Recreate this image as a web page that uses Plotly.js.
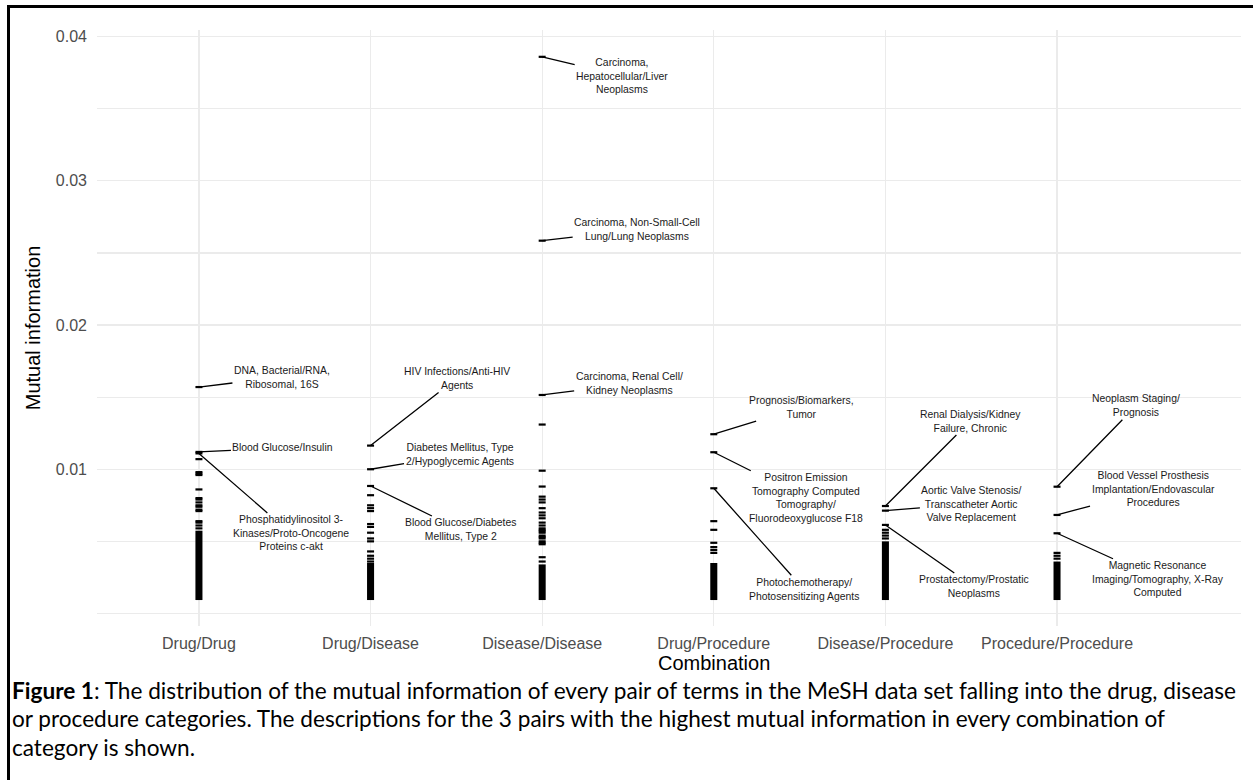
<!DOCTYPE html>
<html>
<head>
<meta charset="utf-8">
<script src="https://cdn.plot.ly/plotly-3.0.1.min.js"></script>
<style>
html,body{margin:0;padding:0;background:#fff;overflow:hidden;}
#wrap{position:relative;width:1253px;height:780px;}
#chart{width:1253px;height:780px;}
#frame{position:absolute;left:7px;top:5px;width:1246px;height:775px;border-left:3px solid #000;border-top:3px solid #000;box-sizing:border-box;pointer-events:none;}
</style>
</head>
<body>
<div id="wrap"><div id="chart"></div><div id="frame"></div></div>
<script>
// ---------------- DATA ----------------
const categories = ["Drug/Drug", "Drug/Disease", "Disease/Disease", "Drug/Procedure", "Disease/Procedure", "Procedure/Procedure"];

// individually distinguishable values (mutual information) per combination
const drugDrug = [0.0157, 0.0112, 0.0111, 0.0107, 0.0098, 0.0097, 0.0096, 0.0086, 0.0080, 0.0079, 0.0077, 0.0075, 0.0074, 0.0072, 0.0071, 0.0064, 0.0063, 0.0061, 0.0059];
const drugDisease = [0.01164, 0.0100, 0.00884, 0.0082, 0.0075, 0.0073, 0.0071, 0.0062, 0.0060, 0.0056, 0.0052, 0.0050, 0.0043, 0.0040, 0.0038, 0.0036];
const diseaseDisease = [0.0386, 0.02585, 0.01515, 0.0131, 0.0099, 0.0088, 0.0081, 0.0079, 0.0077, 0.0073, 0.0070, 0.0068, 0.0066, 0.0063, 0.0061, 0.0059, 0.0058, 0.0057, 0.0056, 0.0054, 0.0053, 0.0052, 0.0050, 0.0049, 0.0048, 0.0039, 0.0036];
const drugProcedure = [0.01243, 0.01118, 0.00868, 0.0064, 0.0058, 0.0049, 0.0046, 0.0044, 0.0042];
const diseaseProcedure = [0.00745, 0.00713, 0.00614, 0.0058, 0.0056, 0.0054, 0.0052];
const procedureProcedure = [0.00879, 0.00683, 0.00556, 0.0042, 0.0040, 0.0038];

// dense clusters of many overlapping values (shown as solid blocks): lower and upper value
const denseLow  = [0.00093, 0.00093, 0.00093, 0.00093, 0.00093, 0.00093];
const denseHigh = [0.00574, 0.0035, 0.0034, 0.0035, 0.0050, 0.0036];

// descriptions of the 3 highest pairs, in descending order of value
const labelsDrugDrug = ["DNA, Bacterial/RNA,<br>Ribosomal, 16S", "Blood Glucose/Insulin", "Phosphatidylinositol 3-<br>Kinases/Proto-Oncogene<br>Proteins c-akt"];
const labelsDrugDisease = ["HIV Infections/Anti-HIV<br>Agents", "Diabetes Mellitus, Type<br>2/Hypoglycemic Agents", "Blood Glucose/Diabetes<br>Mellitus, Type 2"];
const labelsDiseaseDisease = ["Carcinoma,<br>Hepatocellular/Liver<br>Neoplasms", "Carcinoma, Non-Small-Cell<br>Lung/Lung Neoplasms", "Carcinoma, Renal Cell/<br>Kidney Neoplasms"];
const labelsDrugProcedure = ["Prognosis/Biomarkers,<br>Tumor", "Positron Emission<br>Tomography Computed<br>Tomography/<br>Fluorodeoxyglucose F18", "Photochemotherapy/<br>Photosensitizing Agents"];
const labelsDiseaseProcedure = ["Renal Dialysis/Kidney<br>Failure, Chronic", "Aortic Valve Stenosis/<br>Transcatheter Aortic<br>Valve Replacement", "Prostatectomy/Prostatic<br>Neoplasms"];
const labelsProcedureProcedure = ["Neoplasm Staging/<br>Prognosis", "Blood Vessel Prosthesis<br>Implantation/Endovascular<br>Procedures", "Magnetic Resonance<br>Imaging/Tomography, X-Ray<br>Computed"];

const yTickVals = [0, 0.005, 0.01, 0.015, 0.02, 0.025, 0.03, 0.035, 0.04];
const yTickText = ["", "", "0.01", "", "0.02", "", "0.03", "", "0.04"];

const xTitle = "Combination";
const yTitle = "Mutual information";
const captionLines = [
  "<b>Figure 1</b>: The distribution of the mutual information of every pair of terms in the MeSH data set falling into the drug, disease",
  "or procedure categories. The descriptions for the 3 pairs with the highest mutual information in every combination of",
  "category is shown."
];

// ---------------- BUILD ----------------
const series = [drugDrug, drugDisease, diseaseDisease, drugProcedure, diseaseProcedure, procedureProcedure];
const labels = [labelsDrugDrug, labelsDrugDisease, labelsDiseaseDisease, labelsDrugProcedure, labelsDiseaseProcedure, labelsProcedureProcedure];

// label offsets in pixels (style)
const labelOffsets = [
  [[83,-10],[84,-4],[92,80]],
  [[86,-67],[89,-15],[90,44]],
  [[80,19],[95,-11],[87,-11]],
  [[88,-27],[92,46],[90,101]],
  [[85,-85],[86,-7],[89,62]],
  [[79,-81],[96,-26],[101,46]]
];

const px = [], py = [];
series.forEach((s, i) => s.forEach(v => { px.push(categories[i]); py.push(v); }));

const traces = [
  {
    type: "bar",
    x: categories,
    base: denseLow,
    y: denseHigh.map((h, i) => h - denseLow[i]),
    width: 0.041,
    marker: {color: "#000", line: {width: 0}},
    hoverinfo: "skip",
    showlegend: false
  },
  {
    type: "scatter",
    mode: "markers",
    x: px, y: py,
    marker: {symbol: "line-ew", size: 5, color: "#000", line: {color: "#000", width: 2.2}},
    showlegend: false,
    cliponaxis: false
  }
];

const annotations = [];
series.forEach((s, i) => {
  const top = s.slice().sort((a, b) => b - a).slice(0, 3);
  top.forEach((v, k) => {
    annotations.push({
      x: categories[i], y: v, xref: "x", yref: "y",
      text: labels[i][k],
      showarrow: true, arrowhead: 0, arrowwidth: 1.3, arrowcolor: "#000",
      ax: labelOffsets[i][k][0], ay: labelOffsets[i][k][1],
      standoff: 0, startstandoff: 0,
      align: "center",
      font: {family: "Liberation Sans, Arial, sans-serif", size: 10.4, color: "#1a1a1a"}
    });
  });
});

// plot area: x 97..1241, y 30..626
const L = 97, R = 1241, T = 30, B = 626;
const toPX = p => (p - L) / (R - L);
const toPY = p => (B - p) / (B - T);

annotations.push({
  xref: "paper", yref: "paper", x: toPX(714), y: toPY(663),
  xanchor: "center", yanchor: "middle", showarrow: false,
  text: xTitle,
  font: {family: "Liberation Sans, Arial, sans-serif", size: 20, color: "#000"}
});

const capY = [690, 718.5, 747];
captionLines.forEach((t, i) => {
  annotations.push({
    xref: "paper", yref: "paper", x: toPX(10), y: toPY(capY[i]),
    xanchor: "left", yanchor: "middle", showarrow: false, align: "left",
    text: t,
    font: {family: "Lato, sans-serif", size: 22.6, color: "#000"}
  });
});

const layout = {
  width: 1253, height: 780,
  margin: {l: L, r: 1253 - R, t: T, b: 780 - B, pad: 0},
  paper_bgcolor: "#fff", plot_bgcolor: "#fff",
  barmode: "overlay",
  font: {family: "Liberation Sans, Arial, sans-serif"},
  xaxis: {
    type: "category",
    categoryorder: "array", categoryarray: categories,
    range: [-0.594, 6.072],
    showgrid: true, gridcolor: "#ebebeb", gridwidth: 1.3,
    zeroline: false, showline: false, ticks: "",
    tickfont: {size: 16, color: "#4d4d4d"},
    ticklabelstandoff: 6,
    fixedrange: true
  },
  yaxis: {
    range: [-0.00087, 0.04046],
    tickmode: "array", tickvals: yTickVals, ticktext: yTickText,
    showgrid: true, gridcolor: "#ebebeb", gridwidth: 1.3,
    zeroline: false, showline: false, ticks: "",
    tickfont: {size: 16, color: "#4d4d4d"},
    ticklabelstandoff: 9,
    title: {text: yTitle, font: {size: 20, color: "#000"}, standoff: 9},
    fixedrange: true
  },
  annotations: annotations,
  showlegend: false
};

Plotly.newPlot("chart", traces, layout, {displayModeBar: false, staticPlot: true});
</script>
</body>
</html>
